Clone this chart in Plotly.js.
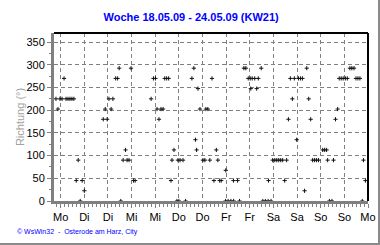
<!DOCTYPE html>
<html>
<head>
<meta charset="utf-8">
<script src="https://cdn.plot.ly/plotly-3.0.1.min.js"></script>
<style>
  html, body { margin: 0; padding: 0; background: #fff; }
  #chart { width: 380px; height: 245px; }
  #frame { position: absolute; left: 0; top: 0; width: 380px; height: 245px;
           box-sizing: border-box; border-right: 2px solid #8a8a8a; border-bottom: 2px solid #8a8a8a;
           pointer-events: none; }
</style>
</head>
<body>
<div id="chart"></div>
<div id="frame"></div>
<script>
// Hours counted from Monday 18.05.09 00:00
const hours = [
  9.6, 10.6, 11.6, 12.7, 13.7, 14.7, 15.7, 16.7, 17.7, 18.7,
  19.9, 20.9, 21.9, 22.9, 24.0,
  33.6, 34.6, 35.6, 36.5, 37.6, 38.5, 39.9, 40.9, 41.7, 42.5,
  43.7, 44.9, 45.7, 46.7, 47.7, 49.0, 49.8,
  57.9, 59.1, 60.1, 60.9, 61.9, 62.9, 64.0, 64.8, 65.8, 66.8,
  68.0, 68.5, 69.5, 71.0, 71.5, 72.0, 72.6, 74.1, 75.4,
  78.6, 79.6, 80.4, 81.0, 81.7, 82.7, 84.2, 85.2, 85.7, 86.7,
  87.7, 88.8, 89.8, 91.0, 91.8, 92.7, 93.5, 95.7, 95.8, 97.0,
  98.4, 99.7, 99.8, 101.8, 102.8,
  105.0, 106.0, 107.2, 108.2, 108.5, 109.2, 110.5, 111.5, 112.3, 113.8,
  114.6, 115.9, 117.3, 117.5, 118.8,
  119.6, 120.7, 121.7, 122.7, 123.7, 124.7, 125.7, 126.7, 127.6, 128.6,
  129.6, 130.6, 131.8, 132.7, 133.7, 134.7, 135.8, 136.9, 137.9, 138.9,
  139.9, 140.9, 141.9, 142.9, 145.0, 146.0, 147.0, 147.5, 148.4, 149.7,
  150.5, 151.5, 152.6, 153.4, 154.4, 155.4, 156.5, 157.5,
  158.8, 159.8, 160.9, 161.9, 162.9, 163.9, 165.1, 165.7, 166.7
];
// Wind direction in degrees
const direction = [
  225, 202.5, 225, 225, 270, 225, 225, 225, 225, 225,
  45, 90, 0, 45, 22.5,
  180, 202.5, 180, 225, 202.5, 225, 270, 270, 292.5, 0,
  90, 112.5, 90, 90, 292.5, 45, 45,
  225, 270, 270, 202.5, 180, 202.5, 202.5, 270, 270, 270,
  45, 90, 112.5, 0, 90, 0, 90, 90, 0,
  270, 292.5, 135, 112.5, 247.5, 202.5, 90, 90, 202.5, 202.5,
  90, 270, 45, 112.5, 90, 45, 45, 0, 67.5, 0,
  0, 45, 0, 45, 0,
  292.5, 292.5, 270, 270, 247.5, 270, 270, 247.5, 270, 292.5,
  0, 0, 0, 45, 0,
  90, 90, 90, 90, 90, 90, 45, 90, 180, 270,
  225, 270, 135, 270, 270, 270, 22.5, 292.5, 225, 180,
  90, 90, 90, 90, 112.5, 112.5, 112.5, 90, 0, 0,
  90, 180, 202.5, 270, 270, 270, 270, 270,
  292.5, 292.5, 292.5, 270, 270, 270, 0, 90, 45
];
const tickHours = [12, 24, 36, 48, 60, 72, 84, 96, 108, 120, 132, 144, 156, 168];
const tickLabels = ["Mo", "Di", "Di", "Mi", "Mi", "Do", "Do", "Fr", "Fr", "Sa", "Sa", "So", "So", "Mo"];
const yTicks = [0, 50, 100, 150, 200, 250, 300, 350];

const font = "Liberation Sans, Arial, sans-serif";

const trace = {
  x: hours, y: direction, type: "scatter", mode: "markers",
  marker: { symbol: "cross-thin-open", size: 3, color: "#111", line: { width: 1, color: "#111" } },
  hoverinfo: "x+y"
};

const layout = {
  width: 380, height: 245,
  margin: { l: 54, r: 12, t: 33, b: 44, pad: 0 },
  paper_bgcolor: "#fff", plot_bgcolor: "#fff",
  showlegend: false,
  font: { family: font, size: 11, color: "#000" },
  title: {
    text: "<b>Woche 18.05.09 - 24.05.09 (KW21)</b>",
    font: { family: font, size: 11, color: "#0000ff" },
    x: 0.503, xref: "container", xanchor: "center",
    y: 1 - 17 / 245, yref: "container", yanchor: "middle"
  },
  xaxis: {
    range: [8.6, 168], fixedrange: true,
    tickmode: "array", tickvals: tickHours, ticktext: tickLabels,
    showgrid: true, gridcolor: "#808080", griddash: "4px,3px", gridwidth: 1,
    zeroline: false,
    showline: true, linecolor: "#808080", linewidth: 3,
    ticks: "outside", ticklen: 4, tickcolor: "#808080", tickwidth: 1,
    minor: { dtick: 2, tick0: 0, ticks: "outside", ticklen: 3, tickcolor: "#808080", showgrid: false },
    tickfont: { family: font, size: 11, color: "#000" }
  },
  yaxis: {
    range: [0, 370], fixedrange: true,
    tickmode: "array", tickvals: yTicks,
    showgrid: true, gridcolor: "#808080", griddash: "4px,3px", gridwidth: 1,
    zeroline: false,
    showline: true, linecolor: "#808080", linewidth: 3,
    ticks: "outside", ticklen: 4, tickcolor: "#808080", tickwidth: 1,
    minor: { dtick: 25, tick0: 0, ticks: "outside", ticklen: 2, tickcolor: "#808080", showgrid: false },
    tickfont: { family: font, size: 11, color: "#000" },
    title: { text: "Richtung (°)", font: { family: font, size: 11, color: "#a0a0a0" }, standoff: 0 }
  },
  shapes: [
    { type: "line", xref: "paper", yref: "paper", x0: 0, x1: 1, y0: 1, y1: 1, line: { color: "#000", width: 2 } },
    { type: "line", xref: "paper", yref: "paper", x0: 1, x1: 1, y0: 0, y1: 1, line: { color: "#000", width: 2 } }
  ],
  annotations: [
    { text: "© WsWin32  -  Osterode am Harz, City", xref: "paper", yref: "paper",
      x: -0.124, y: -0.185, xanchor: "left", yanchor: "middle", showarrow: false,
      font: { family: font, size: 7, color: "#0000ff" } }
  ]
};

Plotly.newPlot("chart", [trace], layout, { displayModeBar: false, staticPlot: true });
</script>
</body>
</html>
